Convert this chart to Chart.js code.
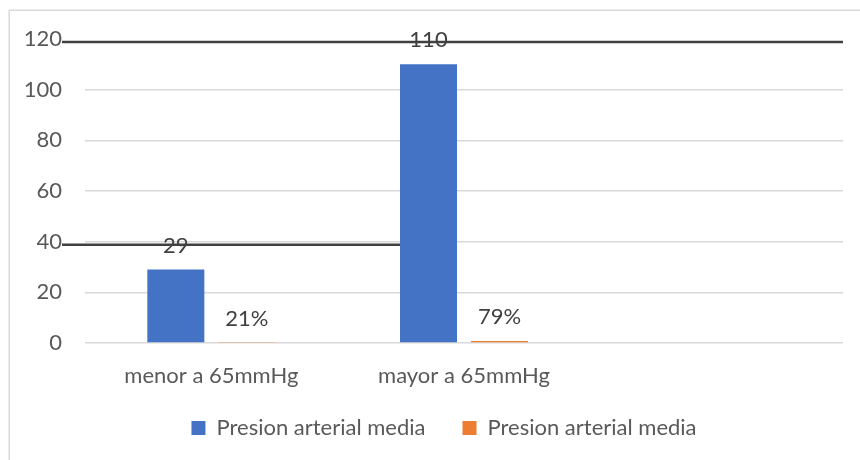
<!DOCTYPE html>
<html>
<head>
<meta charset="utf-8">
<script src="https://cdn.jsdelivr.net/npm/chart.js@4/dist/chart.umd.min.js"></script>
<style>
  html, body { margin: 0; padding: 0; background: #ffffff; }
  #wrap { width: 860px; height: 460px; position: relative; }
</style>
</head>
<body>
<div id="wrap"><canvas id="chart" width="860" height="460"></canvas></div>
<script>
// Categories (the third slot is an empty category)
const categories = ['menor a 65mmHg', 'mayor a 65mmHg', ''];
// Patient counts per category
const countValues = [29, 110, null];
// Share of patients per category (fraction)
const shareValues = [0.21, 0.79, null];
// Axis ticks
const yTicks = [0, 20, 40, 60, 80, 100, 120];
// Values where a dark rule runs across the plot
const ruleValues = [120, 40];

const FONT = 'Lato, "Open Sans", sans-serif';
const FSIZE = 22;
const TEXT = '#595959';
const LABEL = '#404040';

// Light frame around the chart
const framePlugin = {
  id: 'frame',
  beforeDraw(chart) {
    const c = chart.ctx;
    c.save();
    c.strokeStyle = '#d9d9d9';
    c.lineWidth = 1.5;
    c.strokeRect(9.25, 10.25, 900, 500);
    c.restore();
  }
};

// Place the legend row: centred on the whole frame, a little below the axis labels
const legendPlacePlugin = {
  id: 'legendPlace',
  afterLayout(chart) {
    const lg = chart.legend;
    if (!lg) return;
    lg.left = 45;
    lg.right = 843;
    const h = lg.height;
    lg.top = 380;
    lg.bottom = 380 + h;
  }
};

// Dark horizontal rules at 120 (full width) and 40 (up to the second group)
const rulePlugin = {
  id: 'rules',
  beforeDatasetsDraw(chart) {
    const c = chart.ctx, y = chart.scales.y, area = chart.chartArea;
    const blue = chart.getDatasetMeta(0).data;
    c.save();
    c.strokeStyle = '#404040';
    c.lineWidth = 2.5;
    const x0 = area.left - 23;
    const ends = [area.right, blue[1].x];
    ruleValues.forEach((v, i) => {
      const py = y.getPixelForValue(v) + 3;
      c.beginPath();
      c.moveTo(x0, py);
      c.lineTo(ends[i], py);
      c.stroke();
    });
    c.restore();
  }
};

// Value labels above each bar
const valueLabelPlugin = {
  id: 'valueLabels',
  afterDatasetsDraw(chart) {
    const c = chart.ctx;
    c.save();
    c.font = FSIZE + 'px ' + FONT;
    c.fillStyle = LABEL;
    c.textAlign = 'center';
    c.textBaseline = 'middle';
    chart.data.datasets.forEach((ds, di) => {
      const meta = chart.getDatasetMeta(di);
      meta.data.forEach((bar, i) => {
        const v = ds.data[i];
        if (v == null) return;
        const txt = di === 0 ? String(v) : Math.round(v * 100) + '%';
        c.fillText(txt, bar.x, bar.y - 24);
      });
    });
    c.restore();
  }
};

new Chart(document.getElementById('chart'), {
  type: 'bar',
  data: {
    labels: categories,
    datasets: [
      { label: 'Presion arterial media', data: countValues, backgroundColor: '#4472C4' },
      { label: 'Presion arterial media', data: shareValues, backgroundColor: '#ED7D31' }
    ]
  },
  options: {
    responsive: false,
    animation: false,
    devicePixelRatio: 1,
    datasets: { bar: { categoryPercentage: 0.562, barPercentage: 0.803 } },
    layout: { padding: { left: 20, right: 17, top: 39, bottom: -2 } },
    scales: {
      x: {
        afterFit(scale) { scale.height = 50; },
        grid: { display: false, drawTicks: false },
        border: { display: false },
        ticks: { color: TEXT, font: { family: FONT, size: FSIZE }, padding: 20, maxRotation: 0 }
      },
      y: {
        min: 0, max: 120,
        afterFit(scale) { scale.width = 65; },
        afterBuildTicks(scale) { scale.ticks = yTicks.map(v => ({ value: v })); },
        grid: {
          color: ctx => (ctx.tick && ctx.tick.value === 120) ? 'rgba(0,0,0,0)' : '#d9d9d9',
          lineWidth: 1.5,
          drawTicks: false
        },
        border: { display: false },
        ticks: { color: TEXT, font: { family: FONT, size: FSIZE }, padding: 23 }
      }
    },
    plugins: {
      legend: {
        position: 'bottom',
        labels: {
          boxWidth: 14, boxHeight: 14, padding: 37,
          color: TEXT, font: { family: FONT, size: FSIZE }
        }
      },
      tooltip: { enabled: false }
    }
  },
  plugins: [framePlugin, legendPlacePlugin, rulePlugin, valueLabelPlugin]
});
</script>
</body>
</html>
